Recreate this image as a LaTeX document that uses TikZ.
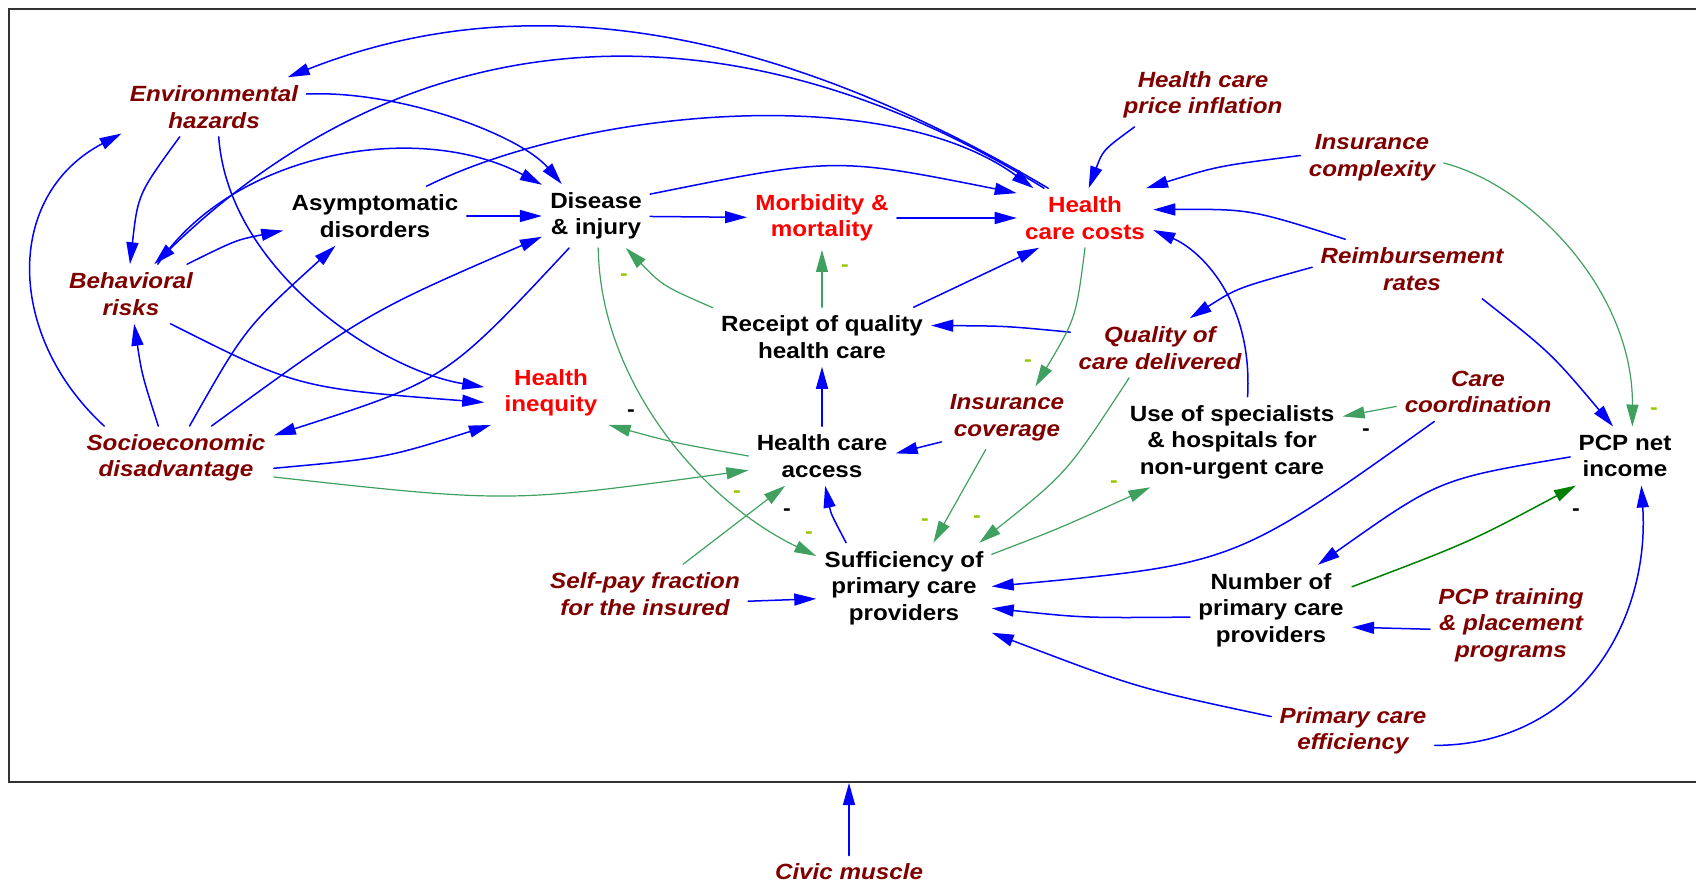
\documentclass[tikz,border=0pt]{standalone}
\usepackage{fontspec}
\setmainfont{Liberation Sans}[FakeStretch=1.1]
\usetikzlibrary{arrows.meta}
\definecolor{extred}{RGB}{128,0,0}
\definecolor{neggreen}{RGB}{64,160,96}
\definecolor{loopgreen}{RGB}{0,128,0}
\definecolor{markgreen}{RGB}{150,200,0}

\begin{document}
\begin{tikzpicture}[x=0.5pt,y=0.5pt,line cap=round]
	\tikzstyle{varbox}=[align=center,inner sep=4pt,font=\bfseries\fontsize{11}{13.3}\selectfont];
	\tikzstyle{extbox}=[varbox,text=extred,font=\bfseries\itshape\fontsize{11}{13.3}\selectfont];
	\tikzstyle{outbox}=[varbox,text=red];
	\tikzstyle{mk}=[inner sep=0pt,font=\bfseries\fontsize{10.5}{12}\selectfont];
	\tikzstyle{poslink}=[draw=blue,line width=0.75pt,-{Triangle[length=11pt,width=6pt]}];
	\tikzstyle{neglink}=[draw=neggreen,line width=0.6pt,-{Triangle[length=11pt,width=6pt]}];

	\useasboundingbox (0,0) rectangle (1696,-882);
	\draw[line width=1.1pt,black!80] (1697,-9) -- (9,-9) -- (9,-782) -- (1697,-782);

	% variables
	\node[extbox] (env) at (214,-107) {Environmental\\hazards};
	\node[extbox] (beh) at (131,-294) {Behavioral\\risks};
	\node[extbox] (soc) at (176,-458) {Socioeconomic\\disadvantage};
	\node[varbox] (asy) at (375,-216) {Asymptomatic\\disorders};
	\node[varbox] (dis) at (596,-216) {Disease\\\& injury};
	\node[outbox] (mor) at (822,-218) {Morbidity \&\\mortality};
	\node[outbox] (hcc) at (1085,-218) {Health\\care costs};
	\node[extbox] (inf) at (1203,-95) {Health care\\price inflation};
	\node[extbox] (icx) at (1372,-158) {Insurance\\complexity};
	\node[extbox] (rei) at (1412,-269) {Reimbursement\\rates};
	\node[extbox] (qua) at (1160,-348) {Quality of\\care delivered};
	\node[varbox] (rec) at (822,-337) {Receipt of quality\\health care};
	\node[outbox,inner xsep=10pt] (ineq) at (551,-393) {Health\\inequity};
	\node[extbox] (icov) at (1007,-418) {Insurance\\coverage};
	\node[varbox] (acc) at (822,-456) {Health care\\access};
	\node[varbox] (spec) at (1232,-442) {Use of specialists\\\& hospitals for\\non-urgent care};
	\node[extbox] (ccord) at (1478,-392) {Care\\coordination};
	\node[varbox] (pcp) at (1625,-456) {PCP net\\income};
	\node[varbox] (suf) at (904,-588) {Sufficiency of\\primary care\\providers};
	\node[extbox] (self) at (645,-594) {Self-pay fraction\\for the insured};
	\node[varbox] (npcp) at (1271,-610) {Number of\\primary care\\providers};
	\node[extbox] (train) at (1511,-625) {PCP training\\\& placement\\programs};
	\node[extbox] (eff) at (1353,-731) {Primary care\\efficiency};
	\node[extbox] (civic) at (849,-872) {Civic muscle};
	\coordinate (frame) at (849,-783);

	% links
	\draw[poslink] (hcc.141) .. controls (740,-6) and (498,6) .. (env.22);
	\draw[poslink] (hcc.144) .. controls (753,-7.5) and (429,2) .. (beh.52);
	\draw[poslink] (asy.30) .. controls (580,-110) and (885,-80) .. (hcc.150);
	\draw[poslink] (dis.22) .. controls (835,-157) .. (hcc.160);
	\draw[poslink] (env.8) .. controls (400,-90) and (520,-135) .. (dis.137);
	\draw[poslink] (beh.48) .. controls (235,-150) and (420,-120) .. (dis.150);
	\draw[poslink] (env.221) .. controls (138,-194) .. (beh.92);
	\draw[poslink] (env.279) .. controls (228,-270) and (380,-370) .. (ineq.175);
	\draw[poslink] (beh.28) .. controls (236,-240) .. (asy.189);
	\draw[poslink] (beh.323) .. controls (298,-388) .. (ineq.188);
	\draw[poslink] (soc.156) .. controls (7,-337) and (3,-196) .. (env.196);
	\draw[poslink] (soc.119) .. controls (142,-375) .. (beh.276);
	\draw[poslink] (soc.67) .. controls (245,-328) .. (asy.217);
	\draw[poslink] (soc.42) .. controls (368,-312) .. (dis.201);
	\draw[poslink] (dis.230) .. controls (446,-380) .. (soc.13);
	\draw[poslink] (soc.354) .. controls (386,-458) .. (ineq.208);
	\draw[neglink] (soc.349) .. controls (509,-503) .. (acc.191);
	\draw[poslink] (asy) -- (dis);
	\draw[poslink] (dis) -- (mor);
	\draw[poslink] (mor) -- (hcc);
	\draw[poslink] (rec.18) -- (hcc.213);
	\draw[neglink] (rec.165) .. controls (663,-286) .. (dis.313);
	\draw[neglink] (rec) -- (mor);
	\draw[poslink] (qua.170) .. controls (1006,-326) .. (rec.6);
	\draw[neglink] (hcc.270) .. controls (1076,-318) .. (icov.48);
	\draw[poslink] (acc) -- (rec);
	\draw[poslink] (icov.200) -- (acc.2);
	\draw[neglink] (acc.180) .. controls (675,-443) .. (ineq.331);
	\draw[neglink] (dis.274) .. controls (600,-380) and (700,-500) .. (suf.160);
	\draw[neglink] (self.38) -- (acc.219);
	\draw[poslink] (suf.142) .. controls (831,-514) .. (acc.276);
	\draw[poslink] (self.356) -- (suf.187);
	\draw[neglink] (icov.236) -- (suf.57);
	\draw[neglink] (qua.224) .. controls (1067,-473) .. (suf.31);
	\draw[neglink] (suf.21) .. controls (1058,-529) .. (spec.209);
	\draw[poslink] (ccord.214) .. controls (1235,-564) .. (suf.1);
	\draw[poslink] (npcp.185) .. controls (1084,-618) .. (suf.347);
	\draw[poslink] (eff.170) .. controls (1137,-688) .. (suf.333);
	\draw[neglink] (ccord.190) -- (spec.13);
	\draw[poslink] (spec.71) .. controls (1253,-300) and (1200,-250) .. (hcc.350);
	\draw[poslink] (rei.156) .. controls (1250,-209) .. (hcc.7);
	\draw[poslink] (icx.178) .. controls (1218,-166) .. (hcc.26);
	\draw[neglink] (icx.356) .. controls (1530,-185) and (1633,-290) .. (pcp.76);
	\draw[poslink] (rei.179) .. controls (1237,-288) .. (qua.45);
	\draw[poslink] (rei.337) .. controls (1551,-353) .. (pcp.112);
	\draw[poslink] (inf.205) .. controls (1103,-150) .. (hcc.83);
	\draw[poslink] (pcp.181) .. controls (1439,-479) .. (npcp.44);
	\draw[poslink,draw=loopgreen] (npcp.16) .. controls (1470,-542) .. (pcp.211);
	\draw[poslink] (train.183) -- (npcp.348);
	\draw[poslink] (eff.350) .. controls (1580,-745) and (1650,-620) .. (pcp.299);
	\draw[poslink] (civic) -- (frame);

	% polarity marks
	\node[mk,text=markgreen] (m1) at (624,-277) {-};
	\node[mk,text=markgreen] (m2) at (845,-268) {-};
	\node[mk,text=markgreen] (m3) at (1028,-363) {-};
	\node[mk,text=markgreen] (m4) at (737,-494) {-};
	\node[mk,text=markgreen] (m5) at (809,-535) {-};
	\node[mk,text=markgreen] (m6) at (925,-522) {-};
	\node[mk,text=markgreen] (m7) at (977,-519) {-};
	\node[mk,text=markgreen] (m8) at (1114,-484) {-};
	\node[mk,text=markgreen] (m9) at (1654,-411) {-};
	\node[mk] (m10) at (631,-413) {-};
	\node[mk] (m11) at (787,-512) {-};
	\node[mk] (m12) at (1366,-432) {-};
	\node[mk] (m13) at (1576,-512) {-};
\end{tikzpicture}
\end{document}
